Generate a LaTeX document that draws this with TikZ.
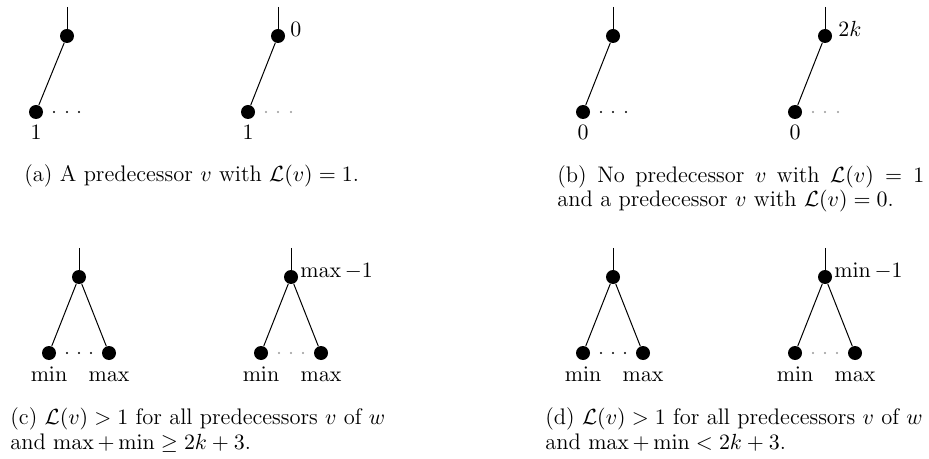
\documentclass[tikz,border=0pt]{standalone}
\begin{document}
\begin{tikzpicture}[x=0.5pt,y=-0.5pt,
  every node/.style={font=\fontsize{11.25}{13.5}\selectfont},
  vtx/.style={circle,fill=black,inner sep=0pt,minimum size=7pt},
  edg/.style={line width=0.5pt},
  dk/.style={circle,fill=black,inner sep=0pt,minimum size=1.2pt},
  lt/.style={circle,fill=black!40,inner sep=0pt,minimum size=1.2pt},
  lab/.style={inner sep=0pt,anchor=base},
  tlab/.style={inner sep=0pt,anchor=base west},
  captxt/.style={inner sep=0pt,anchor=base west}]
\useasboundingbox (0,0) rectangle (929,459);

% ---------- (a) ----------
\coordinate (a1t) at (67,7);
\node[vtx] (a1r) at (67,36) {};
\node[vtx] (a1c) at (36,112) {};
\draw[edg] (a1t) -- (a1r);
\draw[edg] (a1r) -- (a1c);
\node[dk] (a1d1) at (54,112) {};
\node[dk] (a1d2) at (67,112) {};
\node[dk] (a1d3) at (79,112) {};
\node[lab] (a1l) at (36,140) {$1$};

\coordinate (a2t) at (278,7);
\node[vtx] (a2r) at (278,36) {};
\node[vtx] (a2c) at (248,112) {};
\draw[edg] (a2t) -- (a2r);
\draw[edg] (a2r) -- (a2c);
\node[lt] (a2d1) at (266,112) {};
\node[lt] (a2d2) at (278,112) {};
\node[lt] (a2d3) at (291,112) {};
\node[lab] (a2l) at (248,140) {$1$};
\node[tlab] (a2v) at (290,37) {$0$};

\node[captxt] (capa) at (24,182) {(a) A predecessor $v$ with $\mathcal{L}(v) = 1$.};

% ---------- (b) ----------
\coordinate (b1t) at (613,7);
\node[vtx] (b1r) at (613,36) {};
\node[vtx] (b1c) at (583,112) {};
\draw[edg] (b1t) -- (b1r);
\draw[edg] (b1r) -- (b1c);
\node[dk] (b1d1) at (601,112) {};
\node[dk] (b1d2) at (613,112) {};
\node[dk] (b1d3) at (626,112) {};
\node[lab] (b1l) at (583,140) {$0$};

\coordinate (b2t) at (825,7);
\node[vtx] (b2r) at (825,36) {};
\node[vtx] (b2c) at (795,112) {};
\draw[edg] (b2t) -- (b2r);
\draw[edg] (b2r) -- (b2c);
\node[lt] (b2d1) at (813,112) {};
\node[lt] (b2d2) at (825,112) {};
\node[lt] (b2d3) at (838,112) {};
\node[lab] (b2l) at (795,140) {$0$};
\node[tlab] (b2v) at (838,37) {$2k$};

\node[captxt] (capb1) at (557,183) {\hbox to 183.5pt{(b) No predecessor $v$ with $\mathcal{L}(v) = 1$}};
\node[captxt] (capb2) at (557,207) {and a predecessor $v$ with $\mathcal{L}(v) = 0$.};

% ---------- (c) ----------
\coordinate (c1t) at (79,248);
\node[vtx] (c1r) at (79,277) {};
\node[vtx] (c1a) at (49,353) {};
\node[vtx] (c1b) at (109,353) {};
\draw[edg] (c1t) -- (c1r);
\draw[edg] (c1r) -- (c1a);
\draw[edg] (c1r) -- (c1b);
\node[dk] (c1d1) at (67,353) {};
\node[dk] (c1d2) at (79,353) {};
\node[dk] (c1d3) at (91,353) {};
\node[lab] (c1la) at (49,381) {$\min$};
\node[lab] (c1lb) at (109,381) {$\max$};

\coordinate (c2t) at (291,248);
\node[vtx] (c2r) at (291,277) {};
\node[vtx] (c2a) at (261,353) {};
\node[vtx] (c2b) at (321,353) {};
\draw[edg] (c2t) -- (c2r);
\draw[edg] (c2r) -- (c2a);
\draw[edg] (c2r) -- (c2b);
\node[lt] (c2d1) at (279,353) {};
\node[lt] (c2d2) at (291,353) {};
\node[lt] (c2d3) at (303,353) {};
\node[lab] (c2la) at (261,381) {$\min$};
\node[lab] (c2lb) at (321,381) {$\max$};
\node[tlab] (c2v) at (300,278) {$\max -1$};

\node[captxt] (capc1) at (10,424) {(c) $\mathcal{L}(v) > 1$ for all predecessors $v$ of $w$};
\node[captxt] (capc2) at (10,449) {and $\max+\min \geq 2k+3$.};

% ---------- (d) ----------
\coordinate (d1t) at (613,248);
\node[vtx] (d1r) at (613,277) {};
\node[vtx] (d1a) at (583,353) {};
\node[vtx] (d1b) at (643,353) {};
\draw[edg] (d1t) -- (d1r);
\draw[edg] (d1r) -- (d1a);
\draw[edg] (d1r) -- (d1b);
\node[dk] (d1d1) at (601,353) {};
\node[dk] (d1d2) at (613,353) {};
\node[dk] (d1d3) at (625,353) {};
\node[lab] (d1la) at (583,381) {$\min$};
\node[lab] (d1lb) at (643,381) {$\max$};

\coordinate (d2t) at (825,248);
\node[vtx] (d2r) at (825,277) {};
\node[vtx] (d2a) at (795,353) {};
\node[vtx] (d2b) at (855,353) {};
\draw[edg] (d2t) -- (d2r);
\draw[edg] (d2r) -- (d2a);
\draw[edg] (d2r) -- (d2b);
\node[lt] (d2d1) at (813,353) {};
\node[lt] (d2d2) at (825,353) {};
\node[lt] (d2d3) at (837,353) {};
\node[lab] (d2la) at (795,381) {$\min$};
\node[lab] (d2lb) at (855,381) {$\max$};
\node[tlab] (d2v) at (834,278) {$\min -1$};

\node[captxt] (capd1) at (545,424) {(d) $\mathcal{L}(v) > 1$ for all predecessors $v$ of $w$};
\node[captxt] (capd2) at (545,449) {and $\max+\min < 2k+3$.};
\end{tikzpicture}
\end{document}
